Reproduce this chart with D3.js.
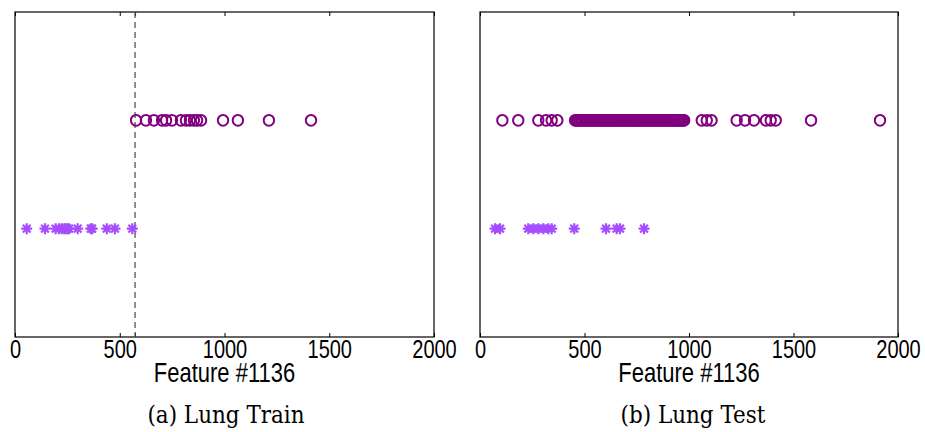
<!DOCTYPE html>
<html>
<head>
<meta charset="utf-8">
<script src="https://cdn.jsdelivr.net/npm/d3@7"></script>
<style>
  body { margin: 0; background: #fff; }
  svg { display: block; }
</style>
</head>
<body>
<div id="chart"></div>
<script>
const width = 925;
const height = 432;

// Feature #1136 values, class 2 (circles) and class 1 (stars)
const trainCircles = [578, 625, 663, 702, 721, 749, 792, 816, 835, 854, 869, 888, 993, 1064, 1212, 1413];
const trainStars = [56, 143, 194, 210, 223, 235, 242, 250, 258, 299, 362, 368, 438, 477, 560];
const threshold = 573;

const testCircles = [107, 183, 279, 316, 343, 370,
  455, 461, 466, 474, 479, 487, 492, 501, 506, 513, 518, 527, 533, 537, 545, 550, 558, 562,
  571, 577, 581, 590, 596, 600, 608, 614, 619, 627, 631, 640, 646, 650, 659, 663, 671, 676,
  684, 690, 695, 703, 709, 714, 721, 728, 732, 740, 745, 753, 757, 766, 770, 778, 785, 789,
  797, 802, 810, 816, 821, 829, 833, 842, 846, 854, 861, 865, 873, 878, 886, 890, 899, 903,
  911, 918, 922, 930, 935, 943, 949, 954, 962, 966, 972, 977,
  1061, 1085, 1108, 1228, 1268, 1311, 1368, 1391, 1415, 1584, 1914];
const testStars = [72, 96, 231, 255, 279, 303, 327, 343, 451, 603, 654, 670, 785];

const xTicks = [0, 500, 1000, 1500, 2000];
const xLabel = "Feature #1136";

const panels = [
  { left: 15, right: 434, circles: trainCircles, stars: trainStars, cut: threshold, caption: "(a) Lung Train", capX: 226 },
  { left: 480, right: 898, circles: testCircles, stars: testStars, cut: null, caption: "(b) Lung Test", capX: 693 }
];

const plotTop = 12, plotBottom = 337;
const circleColor = "#800080";
const starColor = "#a64dff";
const tickStretch = 1.3;
const labelStretch = 1.22;
const capStretch = 1.12;

const svg = d3.select("#chart").append("svg")
  .attr("width", width)
  .attr("height", height)
  .style("background", "#fff");

const y = d3.scaleLinear().domain([0, 3]).range([plotBottom, plotTop]);

// asterisk marker (+ and x combined)
const starPath = (() => {
  const r = 5.5, d = r * Math.SQRT1_2;
  return `M${-r},0L${r},0M0,${-r}L0,${r}M${-d},${-d}L${d},${d}M${-d},${d}L${d},${-d}`;
})();

panels.forEach(p => {
  const x = d3.scaleLinear().domain([0, 2000]).range([p.left, p.right]);
  const g = svg.append("g");

  const ticks = p.cut ? xTicks.concat([p.cut]) : xTicks;

  // bottom axis, ticks pointing inward
  const ax = g.append("g")
    .attr("transform", `translate(0,${plotBottom})`)
    .call(d3.axisBottom(x).tickValues(ticks).tickSizeInner(-4).tickSizeOuter(0)
      .tickFormat(d => xTicks.includes(d) ? d : ""));
  ax.select(".domain").remove();
  ax.selectAll("line").attr("stroke", "#000").attr("stroke-width", 1);
  ax.selectAll("text")
    .attr("fill", "#000")
    .style("font-family", "'Liberation Sans', Arial, sans-serif")
    .style("font-size", "20px")
    .attr("dy", null)
    .attr("y", 21 / tickStretch)
    .attr("transform", `scale(1,${tickStretch})`);

  // top ticks
  const axTop = g.append("g")
    .attr("transform", `translate(0,${plotTop})`)
    .call(d3.axisTop(x).tickValues(ticks).tickSizeInner(-4).tickSizeOuter(0).tickFormat(""));
  axTop.select(".domain").remove();
  axTop.selectAll("line").attr("stroke", "#000").attr("stroke-width", 1);

  // frame
  g.append("rect")
    .attr("x", p.left).attr("y", plotTop)
    .attr("width", p.right - p.left).attr("height", plotBottom - plotTop)
    .attr("fill", "none").attr("stroke", "#000").attr("stroke-width", 1.2);

  if (p.cut) {
    g.append("line")
      .attr("x1", x(p.cut)).attr("x2", x(p.cut))
      .attr("y1", plotTop).attr("y2", plotBottom)
      .attr("stroke", "#555").attr("stroke-width", 1.3)
      .attr("stroke-dasharray", "6,4");
  }

  g.selectAll(".star").data(p.stars).enter().append("path")
    .attr("class", "star")
    .attr("transform", d => `translate(${x(d)},${y(1)})`)
    .attr("d", starPath)
    .attr("stroke", starColor).attr("stroke-width", 2.2).attr("fill", "none");

  g.selectAll(".dot").data(p.circles).enter().append("ellipse")
    .attr("class", "dot")
    .attr("cx", d => x(d)).attr("cy", y(2))
    .attr("rx", 5.2).attr("ry", 5.4)
    .attr("fill", "none").attr("stroke", circleColor).attr("stroke-width", 2);

  g.append("text")
    .attr("x", (p.left + p.right) / 2)
    .attr("y", 382 / labelStretch)
    .attr("transform", `scale(1,${labelStretch})`)
    .attr("text-anchor", "middle")
    .style("font-family", "'Liberation Sans', Arial, sans-serif")
    .style("font-size", "22px")
    .text(xLabel);

  g.append("text")
    .attr("x", p.capX)
    .attr("y", 423 / capStretch)
    .attr("transform", `scale(1,${capStretch})`)
    .attr("text-anchor", "middle")
    .style("font-family", "'DejaVu Serif', serif")
    .style("font-size", "21.5px")
    .text(p.caption);
});
</script>
</body>
</html>
